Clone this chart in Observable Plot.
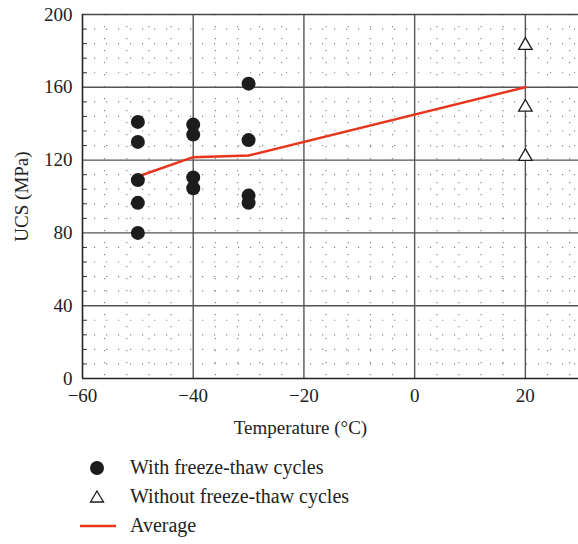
<!DOCTYPE html>
<html>
<head>
<meta charset="utf-8">
<script src="https://cdn.jsdelivr.net/npm/d3@7"></script>
<script src="https://cdn.jsdelivr.net/npm/@observablehq/plot@0.6"></script>
<style>
  html, body { margin: 0; padding: 0; background: #fff; }
  body { width: 578px; height: 544px; overflow: hidden; font-family: "Liberation Serif", "DejaVu Serif", serif; color: #222; }
  #legend { position: absolute; left: 0; top: 453px; }
  .row { position: absolute; left: 0; height: 29px; width: 450px; display: flex; align-items: center; font-size: 20px; white-space: nowrap; }
  .row svg { position: absolute; left: 78px; }
  .row span { position: absolute; left: 130px; }
</style>
</head>
<body>
<div id="chart"></div>
<div id="legend"></div>
<script>
// Data
const withFT_temp = [-50, -50, -50, -50, -50, -40, -40, -40, -40, -30, -30, -30, -30];
const withFT_ucs  = [141, 130, 109, 96.5, 80, 139.5, 134, 110.5, 104.5, 162, 131, 100.5, 96.5];
const withoutFT_temp = [20, 20, 20];
const withoutFT_ucs  = [183, 149, 122];
const avg_temp = [-50, -40, -30, 20];
const avg_ucs  = [111, 121.6, 122.5, 160];
const xTicks = [-60, -40, -20, 0, 20];
const yTicks = [0, 40, 80, 120, 160, 200];
const xMinor = d3.range(-56, 30, 4).filter(v => v % 20 !== 0);
const yMinor = d3.range(8, 200, 8).filter(v => v % 40 !== 0);

const withFT = withFT_temp.map((t, i) => ({t, u: withFT_ucs[i]}));
const withoutFT = withoutFT_temp.map((t, i) => ({t, u: withoutFT_ucs[i]}));
const avg = avg_temp.map((t, i) => ({t, u: avg_ucs[i]}));

const plot = Plot.plot({
  width: 578,
  height: 445,
  marginLeft: 82,
  marginRight: 0,
  marginTop: 14,
  marginBottom: 67,
  style: { fontFamily: "Liberation Serif, DejaVu Serif, serif", fontSize: "18px", color: "#222", background: "#fff" },
  x: { domain: [-60, 29.6] },
  y: { domain: [0, 200] },
  marks: [
    Plot.ruleX(xMinor, { stroke: "#888", strokeWidth: 1.2, strokeDasharray: "1.2,10.8" }),
    Plot.ruleY(yMinor, { stroke: "#888", strokeWidth: 1.2, strokeDasharray: "1.2,10.8" }),
    Plot.ruleX([-40, -20, 0, 20], { stroke: "#555", strokeWidth: 1.4 }),
    Plot.ruleY([40, 80, 120, 160], { stroke: "#555", strokeWidth: 1.4 }),
    Plot.ruleY([200], { stroke: "#444", strokeWidth: 1.5 }),
    Plot.axisY(yMinor, { tickSize: -5, text: null, label: null, stroke: "#333" }),
    Plot.axisY(yTicks, { tickSize: 0, tickPadding: 10, fontSize: 19, label: "UCS (MPa)", labelAnchor: "center", labelArrow: "none", labelOffset: 68 }),
    Plot.axisX(xTicks, { tickSize: 0, tickPadding: 10, fontSize: 19, label: null }),
    Plot.text(["Temperature (°C)"], { frameAnchor: "bottom", dx: -30, dy: 55, fontSize: 19, fill: "#222" }),
    Plot.ruleX([-60], { stroke: "#222", strokeWidth: 1.6 }),
    Plot.ruleY([0], { stroke: "#222", strokeWidth: 1.6 }),
    Plot.line(avg, { x: "t", y: "u", stroke: "#e8341c", strokeWidth: 2.5 }),
    Plot.dot(withFT, { x: "t", y: "u", r: 7, fill: "#1c1c1c", stroke: "none" }),
    Plot.dot(withoutFT, { x: "t", y: "u", symbol: "triangle", r: 5, fill: "#fff", stroke: "#1c1c1c", strokeWidth: 1.3 })
  ]
});
document.getElementById("chart").appendChild(plot);

const legendItems = [
  { label: "With freeze-thaw cycles", kind: "dot" },
  { label: "Without freeze-thaw cycles", kind: "tri" },
  { label: "Average", kind: "line" }
];
const lg = d3.select("#legend");
legendItems.forEach((it, i) => {
  const row = lg.append("div").attr("class", "row").style("top", `${i * 29}px`);
  const s = row.append("svg").attr("width", 40).attr("height", 29);
  if (it.kind === "dot") s.append("circle").attr("cx", 19).attr("cy", 15).attr("r", 7).attr("fill", "#1c1c1c");
  else if (it.kind === "tri") s.append("path").attr("d", "M19,9 L25.5,20 L12.5,20 Z").attr("fill", "#fff").attr("stroke", "#1c1c1c").attr("stroke-width", 1.3);
  else s.append("line").attr("x1", 2).attr("x2", 38).attr("y1", 15).attr("y2", 15).attr("stroke", "#e8341c").attr("stroke-width", 2.5);
  row.append("span").text(it.label);
});
</script>
</body>
</html>
